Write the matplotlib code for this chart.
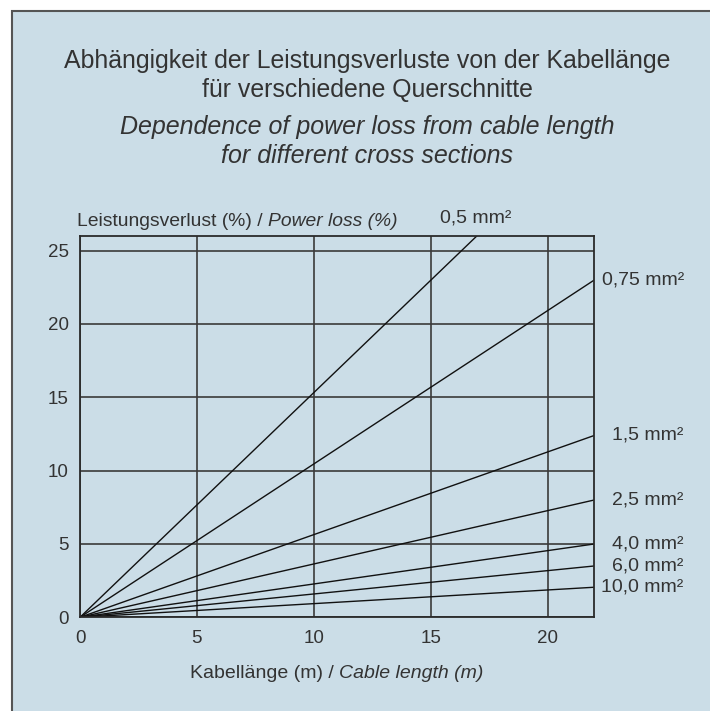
import matplotlib
matplotlib.use("Agg")
import matplotlib.pyplot as plt
from matplotlib.patches import Rectangle

# Daten
kabellaenge = [0, 22]
querschnitte = ['0,5 mm²', '0,75 mm²', '1,5 mm²', '2,5 mm²', '4,0 mm²', '6,0 mm²', '10,0 mm²']
verlust_22m = [33.7, 23.0, 12.4, 8.0, 5.0, 3.5, 2.05]
x_ticks = [0, 5, 10, 15, 20]
y_ticks = [0, 5, 10, 15, 20, 25]

bg = '#cbdde7'
txt = '#333333'
plt.rcParams['font.family'] = ['Liberation Sans', 'DejaVu Sans']


def main():
    fig = plt.figure(figsize=(7.1, 7.11), dpi=100, facecolor='white')

    # Hintergrundfeld mit Rahmen
    fig.patches.append(Rectangle((12 / 710, -0.01), 1.0, 1 - 11 / 711 + 0.01,
                                 transform=fig.transFigure, facecolor=bg,
                                 edgecolor='#555555', linewidth=1.5, zorder=-10))

    def fy(px):
        return 1 - px / 711

    cx = 367 / 710
    fig.text(cx, fy(68), 'Abhängigkeit der Leistungsverluste von der Kabellänge',
             ha='center', va='baseline', fontsize=17.9, color=txt)
    fig.text(cx, fy(97), 'für verschiedene Querschnitte',
             ha='center', va='baseline', fontsize=17.9, color=txt)
    fig.text(cx, fy(134), 'Dependence of power loss from cable length',
             ha='center', va='baseline', fontsize=18, color=txt, style='italic')
    fig.text(cx, fy(163), 'for different cross sections',
             ha='center', va='baseline', fontsize=18, color=txt, style='italic')

    ax = fig.add_axes([80 / 710, 93.7 / 711, 514.3 / 710, 381.3 / 711])
    ax.set_facecolor(bg)
    ax.set_xlim(0, 22)
    ax.set_ylim(0, 26)
    ax.set_xticks(x_ticks)
    ax.set_yticks(y_ticks)
    ax.tick_params(length=0, labelsize=13.5, labelcolor=txt)
    ax.tick_params(axis='x', pad=9)
    ax.tick_params(axis='y', pad=8)
    ax.grid(True, color='#3a3a3a', linewidth=1.2)
    ax.set_axisbelow(True)
    for s in ax.spines.values():
        s.set_color('#2a2a2a')
        s.set_linewidth(1.3)

    for name, v in zip(querschnitte, verlust_22m):
        ax.plot(kabellaenge, [0, v], color='#111111', linewidth=1.0)

    # Beschriftungen der Kurven
    for name, v in zip(querschnitte, verlust_22m):
        if name == '0,5 mm²':
            ax.annotate(name, xy=(15.42, 27.2), xycoords='data', ha='left', va='center',
                        fontsize=14, color=txt, annotation_clip=False)
        elif name == '0,75 mm²':
            ax.annotate(name, xy=(22, v), xytext=(8, 0), textcoords='offset pixels',
                        ha='left', va='center', fontsize=14, color=txt, annotation_clip=False)
        else:
            ax.annotate(name, xy=(22, v), xytext=(89, 0), textcoords='offset pixels',
                        ha='right', va='center', fontsize=14, color=txt, annotation_clip=False)

    # Achsenbeschriftungen (normal + kursiv)
    fig.canvas.draw()
    r = fig.canvas.get_renderer()
    t1 = fig.text(77 / 710, fy(225.7), 'Leistungsverlust (%) / ', ha='left', va='baseline',
                  fontsize=13.9, color=txt)
    bb = t1.get_window_extent(r)
    fig.text(bb.x1 / 710, fy(225.7), 'Power loss (%)', ha='left', va='baseline',
             fontsize=13.9, color=txt, style='italic')

    a1 = fig.text(0, fy(678), 'Kabellänge (m) / ', ha='left', va='baseline',
                  fontsize=14, color=txt)
    a2 = fig.text(0, fy(678), 'Cable length (m)', ha='left', va='baseline',
                  fontsize=14, color=txt, style='italic')
    w1 = a1.get_window_extent(r).width
    w2 = a2.get_window_extent(r).width
    start = 337 - (w1 + w2) / 2
    a1.set_x(start / 710)
    a2.set_x((start + w1) / 710)

    fig.savefig('out.png', dpi=100, facecolor='white')


if __name__ == "__main__":
    main()
